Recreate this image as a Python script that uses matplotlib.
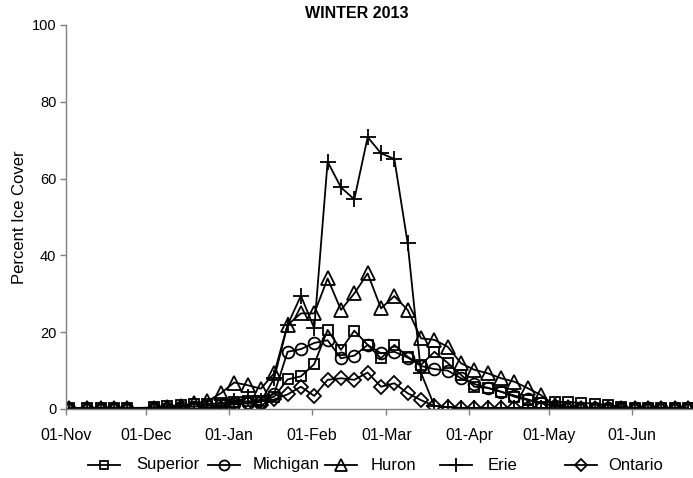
import matplotlib
matplotlib.use("Agg")
import matplotlib.pyplot as plt
from matplotlib.lines import Line2D
import pandas as pd

plt.rcParams['font.family'] = ['Liberation Sans', 'DejaVu Sans']

dates = ['2012-11-02', '2012-11-09', '2012-11-14', '2012-11-19', '2012-11-24',
         '2012-12-04', '2012-12-09', '2012-12-14', '2012-12-19', '2012-12-24', '2012-12-29',
         '2013-01-03', '2013-01-08', '2013-01-13', '2013-01-18', '2013-01-23', '2013-01-28',
         '2013-02-02', '2013-02-07', '2013-02-12', '2013-02-17', '2013-02-22', '2013-02-27',
         '2013-03-04', '2013-03-09', '2013-03-14', '2013-03-19', '2013-03-24', '2013-03-29',
         '2013-04-03', '2013-04-08', '2013-04-13', '2013-04-18', '2013-04-23', '2013-04-28',
         '2013-05-03', '2013-05-08', '2013-05-13', '2013-05-18', '2013-05-23', '2013-05-28',
         '2013-06-02', '2013-06-07', '2013-06-12', '2013-06-17', '2013-06-22']

superior = [0.3, 0.2, 0.2, 0.2, 0.2,
            0.4, 0.8, 1.0, 1.2, 1.3, 1.5,
            1.8, 2.0, 2.2, 3.2, 7.7, 8.5,
            11.7, 20.6, 15.4, 20.4, 16.7, 13.2,
            16.7, 13.6, 11.5, 14.9, 12.0, 8.9,
            5.8, 5.5, 4.5, 3.2, 2.3, 1.6,
            1.9, 1.8, 1.6, 1.4, 1.0, 0.5,
            0.2, 0.2, 0.2, 0.2, 0.2]
michigan = [0.0, 0.0, 0.0, 0.0, 0.0,
            0.2, 0.3, 0.5, 0.6, 0.8, 1.0,
            1.2, 1.5, 1.8, 4.0, 14.9, 15.6,
            17.2, 17.9, 13.2, 13.9, 16.7, 14.5,
            14.9, 13.4, 11.2, 10.4, 10.0, 8.0,
            6.5, 5.5, 4.5, 3.5, 2.5, 1.5,
            0.8, 0.5, 0.3, 0.3, 0.3, 0.3,
            0.2, 0.2, 0.2, 0.2, 0.2]
huron = [0.3, 0.3, 0.3, 0.3, 0.3,
         0.3, 0.4, 0.8, 1.5, 2.0, 4.1,
         6.9, 6.2, 5.3, 9.3, 21.9, 24.9,
         24.9, 34.0, 25.8, 30.1, 35.3, 26.2,
         29.4, 25.8, 18.4, 18.0, 16.2, 11.9,
         10.2, 9.3, 8.0, 7.1, 5.4, 3.6,
         1.0, 0.5, 0.3, 0.3, 0.3, 0.3,
         0.3, 0.3, 0.3, 0.3, 0.3]
erie = [0.0, 0.0, 0.0, 0.0, 0.0,
        0.0, 0.0, 0.0, 0.0, 0.2, 0.5,
        2.0, 3.0, 2.0, 8.0, 21.9, 29.5,
        21.0, 64.4, 57.7, 54.6, 70.8, 66.6,
        65.1, 43.1, 9.4, 0.8, 0.5, 0.3,
        0.3, 0.3, 0.3, 0.3, 0.3, 0.3,
        0.0, 0.0, 0.0, 0.0, 0.0, 0.0,
        0.0, 0.0, 0.0, 0.0, 0.0]
ontario = [0.0, 0.0, 0.0, 0.0, 0.0,
           0.0, 0.0, 0.0, 0.0, 0.0, 0.3,
           1.5, 1.5, 1.0, 2.5, 3.8, 5.8,
           3.4, 7.6, 8.0, 7.6, 9.5, 5.8,
           6.7, 4.1, 2.3, 0.8, 0.5, 0.2,
           0.2, 0.2, 0.2, 0.2, 0.2, 0.2,
           0.0, 0.0, 0.0, 0.0, 0.0, 0.0,
           0.0, 0.0, 0.0, 0.0, 0.0]

tick_dates = ['2012-11-01', '2012-12-01', '2013-01-01', '2013-02-01',
              '2013-03-01', '2013-04-01', '2013-05-01', '2013-06-01']
tick_labels = ['01-Nov', '01-Dec', '01-Jan', '01-Feb', '01-Mar', '01-Apr', '01-May', '01-Jun']
y_ticks = [0, 20, 40, 60, 80, 100]
lake_names = ['Superior', 'Michigan', 'Huron', 'Erie', 'Ontario']

x = pd.to_datetime(dates)

W, H = 693, 478
fig = plt.figure(figsize=(W / 100, H / 100), dpi=100)
ax = fig.add_axes([66 / W, 1 - 409 / H, 626 / W, 384 / H])

styles = [('s', 7.5), ('o', 8.5), ('^', 10.5), ('+', 12), ('D', 7)]
all_vals = [superior, michigan, huron, erie, ontario]
for name, vals, (mk, ms) in zip(lake_names, all_vals, styles):
    ax.plot(x, vals, color='black', lw=1.3, marker=mk, ms=ms,
            mfc='none', mec='black', mew=1.3, label=name)

ax.set_ylim(0, 100)
ax.set_yticks(y_ticks)
ax.set_xlim(pd.Timestamp('2012-11-01'), pd.Timestamp('2012-11-01') + pd.Timedelta(days=234.5))
ax.set_xticks(pd.to_datetime(tick_dates))
ax.set_xticklabels(tick_labels)

for s in ['top', 'right']:
    ax.spines[s].set_visible(False)
for s in ['left', 'bottom']:
    ax.spines[s].set_color('#808080')
    ax.spines[s].set_linewidth(1.0)
ax.tick_params(axis='both', colors='#808080', length=4, width=1.0, labelcolor='black')
ax.tick_params(axis='x', labelsize=11.5, pad=10)
ax.tick_params(axis='y', labelsize=10.5, pad=3)

fig.text(20 / W, 1 - 217 / H, 'Percent Ice Cover', rotation=90, ha='center', va='center',
         fontsize=12)
fig.text(357 / W, 1 - 14 / H, 'WINTER 2013', ha='center', va='center',
         fontsize=11.5, fontweight='bold')

# legend entries placed like the original (Excel style, irregular spacing)
handle_x = [88, 208, 325, 440, 565]
text_x = [136, 253, 371, 488, 608]
leg_y = 1 - 465 / H
for name, (mk, ms), hx, tx in zip(lake_names, styles, handle_x, text_x):
    x0, x1 = hx / W, (hx + 32) / W
    fig.add_artist(Line2D([x0, x1], [leg_y, leg_y], transform=fig.transFigure,
                          color='black', lw=1.3))
    fig.add_artist(Line2D([(x0 + x1) / 2], [leg_y], transform=fig.transFigure,
                          marker=mk, ms=ms * 0.85, mfc='none', mec='black', mew=1.3,
                          ls='none'))
    fig.text(tx / W, leg_y, name, ha='left', va='center', fontsize=12)

fig.savefig('out.png', dpi=100)
